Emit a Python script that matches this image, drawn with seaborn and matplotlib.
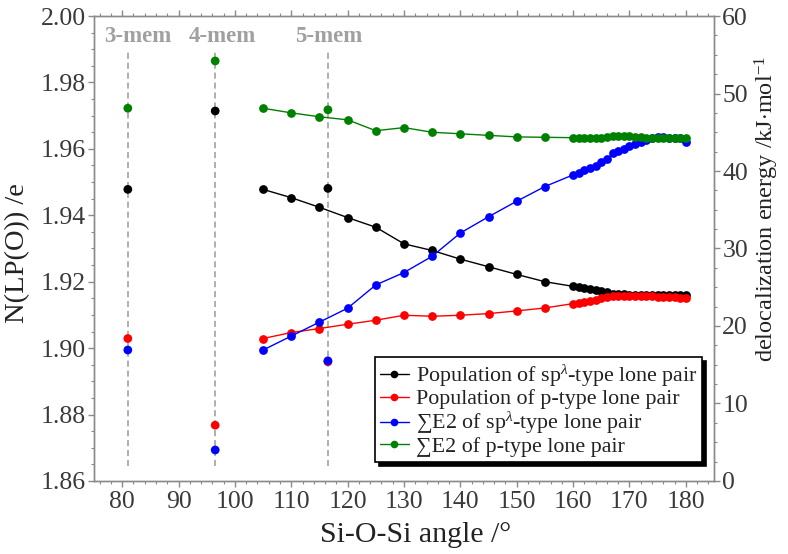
import matplotlib
matplotlib.use("Agg")
import matplotlib.pyplot as plt
import seaborn as sns
from matplotlib.ticker import MultipleLocator, FormatStrFormatter
from matplotlib.lines import Line2D

# ---------------- data ----------------
angles = [105, 110, 115, 120, 125, 130, 135, 140, 145, 150, 155,
          160, 161, 162, 163, 164, 165, 166, 167, 168, 169, 170,
          171, 172, 173, 174, 175, 176, 177, 178, 179, 180]

pop_sp = [1.9478, 1.9453, 1.9424, 1.9393, 1.9364, 1.9314, 1.9294, 1.9268, 1.9245, 1.9222, 1.9200,
          1.9186, 1.9183, 1.9180, 1.9177, 1.9174, 1.9171, 1.9168, 1.9164, 1.9162, 1.9162, 1.9161,
          1.9161, 1.9161, 1.9160, 1.9160, 1.9160, 1.9160, 1.9160, 1.9160, 1.9160, 1.9160]

pop_p = [1.9029, 1.9047, 1.9059, 1.9072, 1.9084, 1.9099, 1.9096, 1.9099, 1.9104, 1.9112, 1.9121,
         1.9134, 1.9137, 1.9140, 1.9143, 1.9146, 1.9150, 1.9154, 1.9157, 1.9158, 1.9158, 1.9158,
         1.9157, 1.9157, 1.9156, 1.9156, 1.9155, 1.9155, 1.9154, 1.9153, 1.9152, 1.9151]

e2_sp = [16.9, 18.7, 20.5, 22.3, 25.3, 26.9, 29.0, 32.0, 34.1, 36.1, 38.0,
         39.5, 39.8, 40.1, 40.4, 40.7, 41.1, 41.5, 42.3, 42.6, 42.9, 43.2,
         43.5, 43.7, 44.0, 44.3, 44.4, 44.4, 44.3, 44.3, 44.3, 43.8]

e2_p = [48.1, 47.5, 47.0, 46.6, 45.2, 45.6, 45.0, 44.8, 44.6, 44.4, 44.35,
        44.3, 44.3, 44.3, 44.3, 44.3, 44.3, 44.4, 44.5, 44.5, 44.5, 44.5,
        44.4, 44.4, 44.3, 44.3, 44.3, 44.3, 44.3, 44.3, 44.3, 44.3]

ring_labels = ["3-mem", "4-mem", "5-mem"]
ring_angles = [81.0, 96.5, 116.5]
ring_pop_sp = [1.9478, 1.9714, 1.9481]
ring_pop_p = [1.9029, 1.8768, 1.8959]
ring_e2_sp = [16.9, 4.0, 15.5]
ring_e2_p = [48.1, 54.2, 47.9]

legend_labels = [r"Population of sp$^{\lambda}$-type lone pair",
                 "Population of p-type lone pair",
                 r"∑E2 of sp$^{\lambda}$-type lone pair",
                 "∑E2 of p-type lone pair"]
colors = ["black", "red", "blue", "green"]

# ---------------- style ----------------
sns.set_style("ticks")
plt.rcParams["font.family"] = ["Liberation Serif", "DejaVu Serif"]
plt.rcParams["mathtext.fontset"] = "custom"
plt.rcParams["mathtext.rm"] = "Liberation Serif"
plt.rcParams["mathtext.it"] = "Liberation Serif:italic"

spine_c = "#8a8a8a"
tick_c = "#3a3a3a"
ms = 6.3
lw = 1.0

fig = plt.figure(figsize=(7.88, 5.54), dpi=100)
ax = fig.add_axes([0.1193, 0.1318, 0.7868, 0.8393])
ax2 = ax.twinx()

# ring markers (dashed guides + labels)
ax.vlines(ring_angles, 1.8645, 1.9892, colors="#9a9a9a", linestyles=(0, (4, 2.5)),
          lw=1.1, zorder=1)
label_x_shift = [1.8, 1.2, 0.2]
for xa, dx, lab in zip(ring_angles, label_x_shift, ring_labels):
    ax.text(xa + dx, 1.9937, lab, ha="center", va="center", fontsize=16.5,
            fontweight="bold", color="#a0a0a0")

# left axis series
sns.lineplot(x=angles, y=pop_sp, ax=ax, color=colors[0], marker="o", markersize=ms,
             markeredgewidth=0, lw=lw, legend=False, zorder=3)
sns.lineplot(x=angles, y=pop_p, ax=ax, color=colors[1], marker="o", markersize=ms,
             markeredgewidth=0, lw=lw, legend=False, zorder=3)
sns.scatterplot(x=ring_angles, y=ring_pop_sp, ax=ax, color=colors[0], s=ms**2,
                edgecolor="none", legend=False, zorder=3)
sns.scatterplot(x=ring_angles, y=ring_pop_p, ax=ax, color=colors[1], s=ms**2,
                edgecolor="none", legend=False, zorder=3)

# right axis series
sns.lineplot(x=angles, y=e2_sp, ax=ax2, color=colors[2], marker="o", markersize=ms,
             markeredgewidth=0, lw=lw, legend=False, zorder=3)
sns.lineplot(x=angles, y=e2_p, ax=ax2, color=colors[3], marker="o", markersize=ms,
             markeredgewidth=0, lw=lw, legend=False, zorder=3)
sns.scatterplot(x=ring_angles, y=ring_e2_sp, ax=ax2, color=colors[2], s=ms**2,
                edgecolor="none", legend=False, zorder=3)
sns.scatterplot(x=ring_angles, y=ring_e2_p, ax=ax2, color=colors[3], s=ms**2,
                edgecolor="none", legend=False, zorder=3)

# axes limits / ticks
ax.set_xlim(75, 185)
ax.set_ylim(1.86, 2.00)
ax2.set_ylim(0, 60)
ax.xaxis.set_major_locator(MultipleLocator(10))
ax.xaxis.set_minor_locator(MultipleLocator(2))
ax.yaxis.set_major_locator(MultipleLocator(0.02))
ax.yaxis.set_minor_locator(MultipleLocator(0.005))
ax2.yaxis.set_major_locator(MultipleLocator(10))
ax2.yaxis.set_minor_locator(MultipleLocator(2.5))
ax.yaxis.set_major_formatter(FormatStrFormatter("%.2f"))

for a in (ax, ax2):
    for s in a.spines.values():
        s.set_color(spine_c)
        s.set_linewidth(1.0)
    a.tick_params(which="both", direction="out", color=spine_c, labelcolor=tick_c,
                  labelsize=18.5)
    a.tick_params(which="major", length=4, width=1)
    a.tick_params(which="minor", length=2.5, width=0.8)

ax.tick_params(axis="x", which="both", top=True, labeltop=False, pad=3)
ax.tick_params(axis="y", which="both", right=False, pad=2)
ax2.tick_params(axis="y", which="both", left=False, right=True, pad=2)

ax.set_xlabel("Si-O-Si angle /°", fontsize=21.5, color="#222222")
ax.xaxis.set_label_coords(0.519, -0.088)
ax.set_ylabel("N(LP(O)) /e", fontsize=20.5, color="#222222")
ax.yaxis.set_label_coords(-0.103, 0.49)
ax2.set_ylabel(r"delocalization energy /kJ$\cdot$mol$^{-1}$", fontsize=17.5,
               color="#222222")
ax2.yaxis.set_label_coords(1.062, 0.585)

# legend
handles = [Line2D([], [], color=c, marker="o", markersize=5.5, markeredgewidth=0, lw=lw)
           for c in colors]
leg = ax2.legend(handles, legend_labels, loc="lower right", bbox_to_anchor=(0.981, 0.041),
                 borderaxespad=0, frameon=True, fancybox=False, edgecolor="black",
                 framealpha=1, fontsize=15.8, handlelength=1.35, handletextpad=0.3,
                 labelspacing=0.02, borderpad=0.22,
                 shadow={"color": "black", "alpha": 1, "ox": 3, "oy": -3})
leg.get_frame().set_linewidth(1.2)
for t in leg.get_texts():
    t.set_color("#222222")

fig.savefig("out.png", dpi=100)
